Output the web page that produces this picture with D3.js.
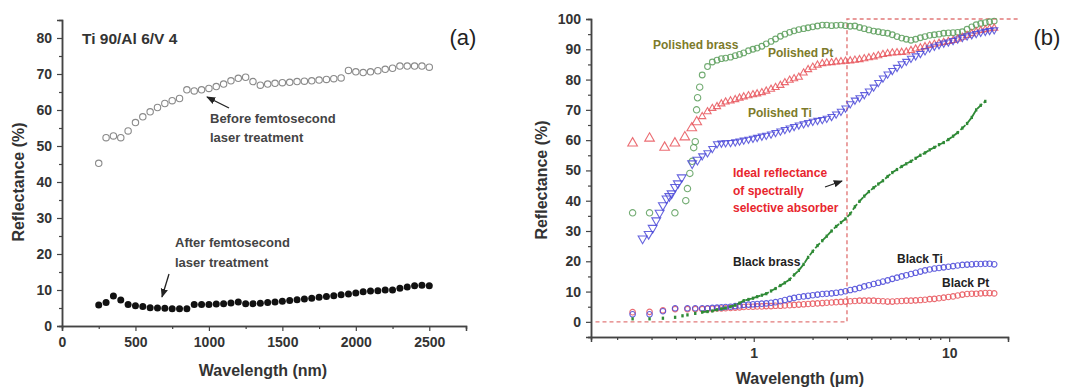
<!DOCTYPE html>
<html>
<head>
<meta charset="utf-8">
<script src="https://cdn.jsdelivr.net/npm/d3@7"></script>
<style>
  body { margin: 0; background: #fff; }
  text { font-family: "Liberation Sans", Arial, sans-serif; }
</style>
</head>
<body>
<svg id="fig" width="1066" height="387"></svg>
<script>
//////////////////////////////////////
////////// DATA, PANEL (a) ///////////
//////////////////////////////////////

var tiWavelength = [250,300,350,400,450,500,550,600,650,700,750,800,850,900,950,1000,
  1050,1100,1150,1200,1250,1300,1350,1400,1450,1500,1550,1600,1650,1700,1750,1800,
  1850,1900,1950,2000,2050,2100,2150,2200,2250,2300,2350,2400,2450,2500];
var tiBefore = [45.2,52.3,52.8,52.3,54.2,56.5,58.1,59.5,60.7,61.8,62.6,63.2,65.6,65.3,65.6,66.0,
  66.5,67.2,68.1,68.8,69.1,67.9,66.9,67.2,67.4,67.6,67.7,67.9,68.0,68.1,68.3,68.5,
  68.7,68.9,71.0,70.6,70.4,70.6,70.9,71.3,71.6,72.2,72.2,72.2,72.2,71.9];
var tiAfter = [5.8,6.5,8.3,7.2,6.0,5.6,5.4,5.1,5.0,4.9,4.8,4.8,4.8,6.0,6.0,6.0,
  6.1,6.2,6.4,6.7,6.2,6.2,6.3,6.5,6.7,6.9,7.1,7.3,7.5,7.7,8.0,8.2,
  8.4,8.7,8.9,9.2,9.5,9.7,9.8,10.0,10.0,10.5,10.8,11.2,11.3,11.2];
var aXTicks = [0,500,1000,1500,2000,2500];
var aXMinor = [250,750,1250,1750,2250];
var aYTicks = [0,10,20,30,40,50,60,70,80];
var aYMinor = [5,15,25,35,45,55,65,75];

//////////////////////////////////////
////////// DATA, PANEL (b) ///////////
//////////////////////////////////////

// dense part of the spectra, wavelength in µm
var wl = [0.545,0.58,0.614,0.649,0.683,0.718,0.761,0.804,0.846,0.889,0.94,0.991,1.041,1.1,1.159,
  1.226,1.293,1.369,1.443,1.527,1.609,1.701,1.8,1.898,2.005,2.12,2.243,2.364,2.502,2.64,
  2.794,2.948,3.117,3.293,3.478,3.677,3.884,4.107,4.338,4.583,4.843,5.118,5.409,5.715,6.034,
  6.376,6.736,7.124,7.524,7.947,8.399,8.872,9.378,9.906,10.47,11.06,11.68,12.35,13.05,13.75,
  14.5,15.3,16.1,17.0];
var polishedBrass = [81.5,84.3,85.8,86.4,86.9,87.1,87.4,87.9,88.3,88.8,89.5,90,90.4,91,91.8,
  92.6,93.4,94.3,95,95.6,96.1,96.5,96.8,97.1,97.4,97.7,98,98,97.8,97.9,
  98,97.8,97.6,97.7,97.2,96.8,96.4,96,95.8,95.5,95.3,94.8,94.2,93.7,93.3,
  93,93.3,93.8,94.2,94.6,94.8,95,95.3,95.4,95.5,95.6,95.8,96.6,97.4,98.1,
  98.5,98.8,99.1,99.3];
var polishedPt = [67.8,69.4,70.5,71.1,72,72.6,73,73.4,73.9,74.3,74.7,75,75.3,75.7,76.2,
  76.8,77.4,78.1,79,79.8,80.3,80.8,82.2,83.3,84.1,84.8,85.3,85.5,85.6,85.8,
  85.9,86.1,86.2,86.4,86.6,86.9,87.2,87.5,87.9,88.3,88.6,88.8,88.9,89,89.1,
  89.6,90.1,90.5,90.9,91.3,91.7,92,92.3,92.6,92.9,93.4,94,94.6,95.2,95.8,
  96.2,96.5,96.8,97];
var polishedTi = [54.8,55.8,57.2,58.8,59,59.1,59.2,59.4,59.7,60,60.3,60.6,60.9,61.3,61.6,
  62,62.5,63,63.5,64,64.5,65,65.4,65.8,66.2,66.5,66.8,67.2,67.8,68.6,
  69.5,70.6,72,73.2,74,75,76.2,77.5,79,80.5,81.8,83,84,85.2,86,
  87,87.8,88.6,89.5,90.4,91,91.5,92,92.4,92.9,93.4,93.9,94.4,94.8,95.2,
  95.6,95.9,96.2,96.4];
var blackBrass = [3.2,3.4,3.6,4,4.3,4.6,5,5.5,6.2,7,7.4,7.8,8.3,8.8,9.3,
  10.2,11,12,12.9,14,15.5,17,19,21.3,23.3,25.2,26.8,28.3,30,31.5,
  32.8,34,35.7,38,39.8,41.5,43,44.3,45.5,46.6,48,49.3,50.3,51.3,52.2,
  53,54,55,55.8,56.8,57.6,58.5,59.2,60.2,61.3,62.5,64,65.5,67.5,70,
  71.5,72.8];
var blackTi = [4.5,4.5,4.6,4.7,4.8,4.9,5,5.2,5.4,5.6,5.7,5.8,5.9,6,6.1,
  6.3,6.5,6.8,7.2,7.6,7.9,8.2,8.4,8.6,8.8,9,9.2,9.3,9.4,9.6,
  9.8,10.1,10.5,10.8,11.2,11.7,12.1,12.5,12.9,13.3,13.7,14.2,14.6,15,15.4,
  15.8,16.2,16.6,17,17.3,17.6,17.8,18,18.2,18.4,18.6,18.8,18.9,19,19.1,
  19.1,19.2,19.2,19];
var blackPt = [4.2,4.3,4.3,4.4,4.4,4.5,4.6,4.7,4.8,4.9,5,5,5.1,5.1,5.2,
  5.2,5.3,5.3,5.4,5.5,5.6,5.7,5.8,5.9,6,6.1,6.2,6.3,6.4,6.5,
  6.6,6.7,6.8,6.9,7,7,7,7,6.9,6.8,6.7,6.7,6.8,6.9,7,
  7,7.1,7.2,7.3,7.5,7.6,7.8,8,8.2,8.4,8.7,9,9.2,9.3,9.3,
  9.4,9.5,9.5,9.4];

// sparse short-wavelength points, [µm, %]
var polishedBrassUV = [[0.240,36],[0.293,36],[0.395,36],[0.449,40],[0.458,44],[0.471,49],[0.484,53],
  [0.493,57.5],[0.502,59.5],[0.510,70],[0.516,74],[0.529,77.5]];
var polishedPtUV = [[0.240,59],[0.293,60.6],[0.350,57.6],[0.395,59],[0.444,61],[0.482,64],[0.511,66]];
var polishedTiUV = [[0.270,27.5],[0.290,29],[0.304,31],[0.317,33.5],[0.330,36],[0.343,38.5],[0.358,40.7],
  [0.370,41.5],[0.380,42.4],[0.396,44.5],[0.409,45.7],[0.428,47.7],[0.484,52.3],[0.515,53.5]];
var blackBrassUV = [[0.240,1],[0.293,1],[0.343,1.2],[0.396,1.5],[0.432,2],[0.458,2.3],[0.502,2.8]];
var blackTiUV = [[0.240,2.5],[0.293,2.5],[0.343,3.5],[0.396,4.5],[0.458,4.5],[0.502,4.5]];
var blackPtUV = [[0.240,3.2],[0.293,3.3],[0.343,3.8],[0.396,4.2],[0.458,4.2],[0.502,4.2]];

// ideal step reflectance of a spectrally selective absorber
var idealCutoff = 3;
var idealLevels = [0, 100];
var idealSpan = [0.155, 22.5];

var bXTicks = [1, 10];
var bXMinor = [0.2,0.3,0.4,0.5,0.6,0.7,0.8,0.9,2,3,4,5,6,7,8,9];
var bYTicks = [0,10,20,30,40,50,60,70,80,90,100];
var bYMinor = [-5,5,15,25,35,45,55,65,75,85,95];

//////////////////////////////////////
//////////// DRAWING /////////////////
//////////////////////////////////////

var svg = d3.select("#fig");
var ink = "#333";

svg.append("defs").append("marker")
    .attr("id", "arrow")
    .attr("viewBox", "0 0 10 10")
    .attr("refX", 9).attr("refY", 5)
    .attr("markerWidth", 7).attr("markerHeight", 7)
    .attr("orient", "auto")
  .append("path")
    .attr("d", "M0,1 L10,5 L0,9 Z")
    .attr("fill", "#222");

function styleAxis(g) {
  g.select(".domain").attr("stroke", "#444").attr("stroke-width", 1.5);
  g.selectAll(".tick line").attr("stroke", "#444").attr("stroke-width", 1.2);
  g.selectAll(".tick text")
    .attr("fill", ink)
    .style("font-size", "14px")
    .style("font-weight", "bold");
}

function pairs(xs, ys) {
  return xs.slice(0, ys.length).map(function(x, i) { return [x, ys[i]]; });
}

function axisTitle(x, y, txt, rot) {
  svg.append("text").attr("x", x).attr("y", y)
      .attr("transform", rot ? "rotate(-90," + x + "," + y + ")" : null)
      .attr("text-anchor", "middle")
      .attr("fill", ink).style("font-size", "16px").style("font-weight", "bold")
      .text(txt);
}

//////////// PANEL (a) ///////////////

var xa = d3.scaleLinear().domain([0, 2750]).range([62, 466]);
var ya = d3.scaleLinear().domain([0, 85]).range([326, 20]);

svg.append("g")
    .attr("transform", "translate(0," + ya(0) + ")")
    .call(d3.axisBottom(xa).tickValues(aXMinor).tickSize(3).tickFormat(""))
    .call(styleAxis);
svg.append("g")
    .attr("transform", "translate(0," + ya(0) + ")")
    .call(d3.axisBottom(xa).tickValues(aXTicks).tickSize(5).tickPadding(6).tickFormat(d3.format("d")))
    .call(styleAxis);
svg.append("g")
    .attr("transform", "translate(" + xa(0) + ",0)")
    .call(d3.axisLeft(ya).tickValues(aYMinor).tickSize(3).tickFormat(""))
    .call(styleAxis);
svg.append("g")
    .attr("transform", "translate(" + xa(0) + ",0)")
    .call(d3.axisLeft(ya).tickValues(aYTicks).tickSize(5).tickPadding(5))
    .call(styleAxis);

svg.append("g").selectAll("circle")
    .data(pairs(tiWavelength, tiBefore))
  .enter().append("circle")
    .attr("cx", function(d) { return xa(d[0]); })
    .attr("cy", function(d) { return ya(d[1]); })
    .attr("r", 3.2)
    .attr("fill", "none")
    .attr("stroke", "#8a8a8a")
    .attr("stroke-width", 1.1);

svg.append("g").selectAll("circle")
    .data(pairs(tiWavelength, tiAfter))
  .enter().append("circle")
    .attr("cx", function(d) { return xa(d[0]); })
    .attr("cy", function(d) { return ya(d[1]); })
    .attr("r", 3.5)
    .attr("fill", "#111");

axisTitle(24, 182, "Reflectance (%)", true);
axisTitle(263, 376, "Wavelength (nm)", false);

svg.append("text").attr("x", 82).attr("y", 44)
    .attr("fill", ink).style("font-size", "15.5px").style("font-weight", "bold")
    .text("Ti 90/Al 6/V 4");
svg.append("text").attr("x", 463).attr("y", 45)
    .attr("text-anchor", "middle")
    .attr("fill", "#222").style("font-size", "22px")
    .text("(a)");

var notesA = [
  {x: 210, y: 123, t: "Before femtosecond"}, {x: 210, y: 142, t: "laser treatment"},
  {x: 175, y: 247, t: "After femtosecond"}, {x: 175, y: 267, t: "laser treatment"}
];
svg.append("g").selectAll("text").data(notesA).enter().append("text")
    .attr("x", function(d) { return d.x; })
    .attr("y", function(d) { return d.y; })
    .attr("fill", "#444").style("font-size", "13px").style("font-weight", "bold")
    .text(function(d) { return d.t; });

svg.append("line").attr("x1", 229).attr("y1", 108).attr("x2", 207).attr("y2", 97)
    .attr("stroke", "#222").attr("stroke-width", 1.3).attr("marker-end", "url(#arrow)");
svg.append("line").attr("x1", 169).attr("y1", 274).attr("x2", 162).attr("y2", 297)
    .attr("stroke", "#222").attr("stroke-width", 1.3).attr("marker-end", "url(#arrow)");

//////////// PANEL (b) ///////////////

var xb = d3.scaleLog().domain([0.147, 20]).range([591, 1008]);
var yb = d3.scaleLinear().domain([-5, 100]).range([337, 19]);

svg.append("g")
    .attr("transform", "translate(0," + yb(-5) + ")")
    .call(d3.axisBottom(xb).tickValues(bXMinor).tickSize(3).tickFormat(""))
    .call(styleAxis);
svg.append("g")
    .attr("transform", "translate(0," + yb(-5) + ")")
    .call(d3.axisBottom(xb).tickValues(bXTicks).tickSize(5).tickPadding(6).tickFormat(d3.format("d")))
    .call(styleAxis);
svg.append("g")
    .attr("transform", "translate(" + xb(0.147) + ",0)")
    .call(d3.axisLeft(yb).tickValues(bYMinor).tickSize(3).tickFormat(""))
    .call(styleAxis);
svg.append("g")
    .attr("transform", "translate(" + xb(0.147) + ",0)")
    .call(d3.axisLeft(yb).tickValues(bYTicks).tickSize(5).tickPadding(5))
    .call(styleAxis);

// ideal reflectance step
var ideal = [[idealSpan[0], idealLevels[0]], [idealCutoff, idealLevels[0]],
             [idealCutoff, idealLevels[1]], [idealSpan[1], idealLevels[1]]];
svg.append("path")
    .attr("d", d3.line().x(function(d) { return xb(d[0]); }).y(function(d) { return yb(d[1]); })(ideal))
    .attr("fill", "none")
    .attr("stroke", "#e27a7a")
    .attr("stroke-width", 1.4)
    .attr("stroke-dasharray", "4,3");

function drawOpen(data, color, type, size, rot) {
  var sym = d3.symbol().type(type).size(size)();
  svg.append("g").selectAll("path")
      .data(data)
    .enter().append("path")
      .attr("d", sym)
      .attr("transform", function(d) {
        return "translate(" + xb(d[0]) + "," + yb(d[1]) + ")" + (rot ? " rotate(180)" : "");
      })
      .attr("fill", "none")
      .attr("stroke", color)
      .attr("stroke-opacity", 0.85)
      .attr("stroke-width", 1.1);
}

var green = "#5a9e5a", red = "#e8535a", blue = "#4a48d8", darkGreen = "#2f8a36";

drawOpen(polishedBrassUV, green, d3.symbolCircle, 32, false);
drawOpen(pairs(wl, polishedBrass), green, d3.symbolCircle, 26, false);
drawOpen(polishedPtUV, red, d3.symbolTriangle, 40, false);
drawOpen(pairs(wl, polishedPt), red, d3.symbolTriangle, 22, false);
drawOpen(polishedTiUV, blue, d3.symbolTriangle, 34, true);
drawOpen(pairs(wl, polishedTi), blue, d3.symbolTriangle, 22, true);
drawOpen(blackPtUV.concat(pairs(wl, blackPt)), red, d3.symbolCircle, 24, false);
drawOpen(blackTiUV.concat(pairs(wl, blackTi)), blue, d3.symbolCircle, 24, false);

svg.append("path")
    .attr("d", d3.line().x(function(d) { return xb(d[0]); }).y(function(d) { return yb(d[1]); })(pairs(wl, blackBrass)))
    .attr("fill", "none")
    .attr("stroke", darkGreen)
    .attr("stroke-width", 1.8)
    .attr("stroke-dasharray", "7,2");
svg.append("g").selectAll("rect")
    .data(blackBrassUV.concat(pairs(wl, blackBrass)))
  .enter().append("rect")
    .attr("x", function(d) { return xb(d[0]) - 1.2; })
    .attr("y", function(d) { return yb(d[1]) - 1.6; })
    .attr("width", 2.4).attr("height", 3.2)
    .attr("fill", darkGreen);

axisTitle(547, 180, "Reflectance (%)", true);
axisTitle(800, 384, "Wavelength (\u03bcm)", false);

svg.append("text").attr("x", 1047).attr("y", 45)
    .attr("text-anchor", "middle")
    .attr("fill", "#222").style("font-size", "22px")
    .text("(b)");

var notesB = [
  {x: 653, y: 49, t: "Polished brass", c: "#7c7a2a"},
  {x: 768, y: 57, t: "Polished Pt", c: "#7c7a2a"},
  {x: 748, y: 117, t: "Polished Ti", c: "#7c7a2a"},
  {x: 733, y: 177, t: "Ideal reflectance", c: "#e8262e"},
  {x: 733, y: 195, t: "of spectrally", c: "#e8262e"},
  {x: 733, y: 212, t: "selective absorber", c: "#e8262e"},
  {x: 733, y: 266, t: "Black brass", c: "#222"},
  {x: 897, y: 263, t: "Black Ti", c: "#222"},
  {x: 942, y: 287, t: "Black Pt", c: "#222"}
];
svg.append("g").selectAll("text").data(notesB).enter().append("text")
    .attr("x", function(d) { return d.x; })
    .attr("y", function(d) { return d.y; })
    .attr("fill", function(d) { return d.c; })
    .style("font-size", "12px").style("font-weight", "bold")
    .text(function(d) { return d.t; });

svg.append("line").attr("x1", 825).attr("y1", 187).attr("x2", 842).attr("y2", 181)
    .attr("stroke", "#222").attr("stroke-width", 1.3).attr("marker-end", "url(#arrow)");
</script>
</body>
</html>
